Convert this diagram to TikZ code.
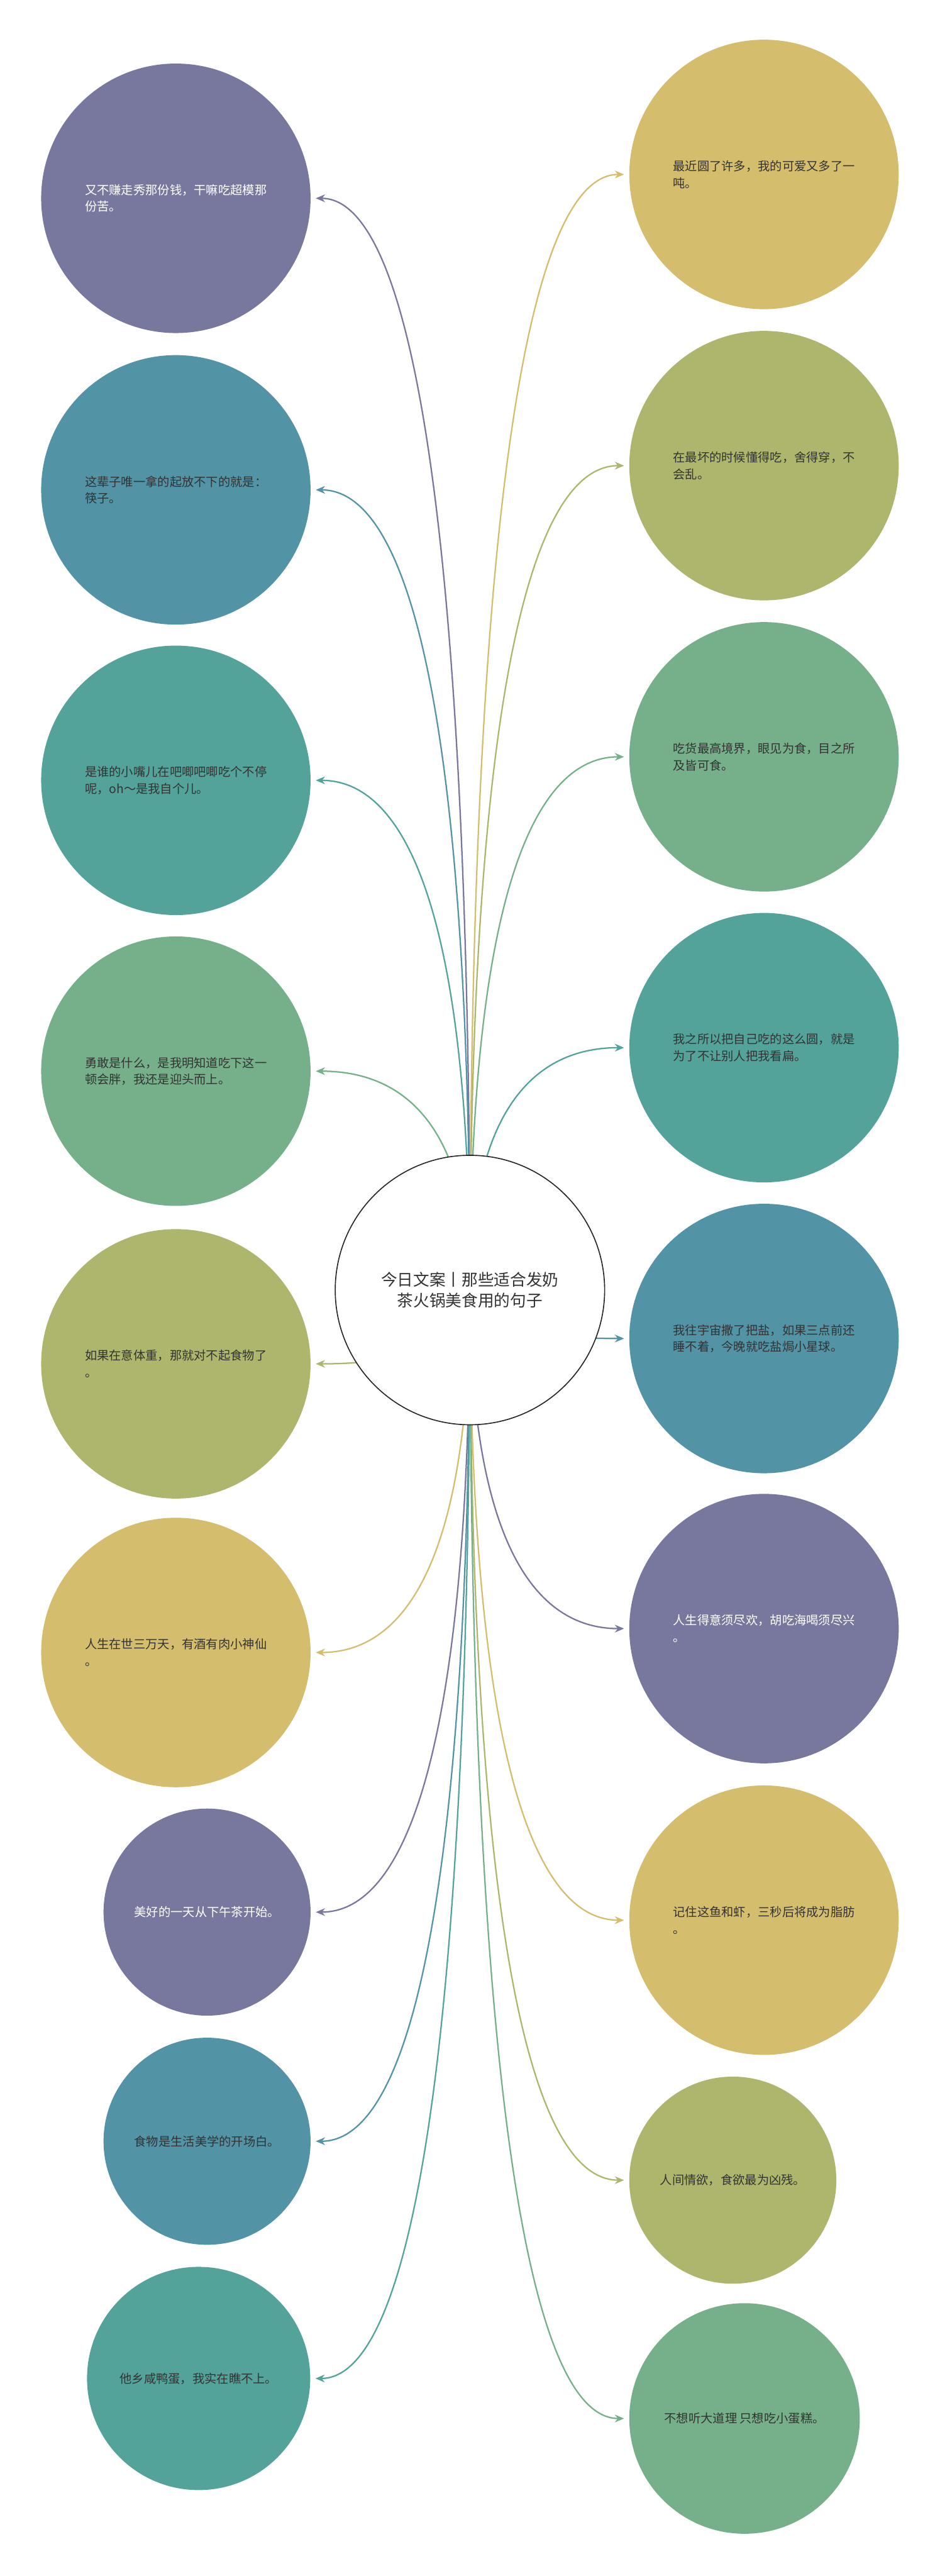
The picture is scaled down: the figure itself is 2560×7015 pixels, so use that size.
\documentclass[tikz,border=0pt]{standalone}
\usepackage{fontspec}
\setmainfont{Noto Sans CJK SC}
\usetikzlibrary{arrows.meta,calc,backgrounds}
\definecolor{cplum}{HTML}{78789F}
\definecolor{csteel}{HTML}{5293A6}
\definecolor{cteal}{HTML}{53A39A}
\definecolor{csage}{HTML}{76B08A}
\definecolor{colive}{HTML}{AEB66D}
\definecolor{cgold}{HTML}{D4BD6D}
\definecolor{ink}{HTML}{333333}
\newcommand{\twig}[3]{
  \draw[twig,#3] (hub.center)
    .. controls ($(hub.center)!0.667!(hub.center |- #1.#2)$)
    and ($(#1.#2)!0.667!(hub.center |- #1.#2)$) .. (#1.#2);
}

\begin{document}
\begin{tikzpicture}[
  x=0.02cm, y=-0.02cm,
  leaf/.style={circle,fill=#1,inner sep=0pt,align=left,text=ink,
    font=\fontsize{18.8}{26}\selectfont},
  big/.style={minimum size=14.68cm},
  small/.style={minimum size=11.28cm},
  hubnode/.style={circle,draw=black!85,line width=1.6pt,fill=white,
    minimum size=14.68cm,align=center,text=ink,
    font=\fontsize{25}{32}\selectfont},
  twig/.style={line width=2.2pt,shorten >=0.28cm,
    -{Stealth[length=0.5cm,width=0.42cm]}},
  ]
  \useasboundingbox (0,0) rectangle (2560,7015);
  \node[hubnode](hub) at (1280,3513){今日文案丨那些适合发奶\\茶火锅美食用的句子};

  \node[leaf=cplum,big,text=white](l1) at (479,540){又不赚走秀那份钱，干嘛吃超模那\\份苦。};
  \node[leaf=csteel,big](l2) at (479,1334){这辈子唯一拿的起放不下的就是：\\筷子。};
  \node[leaf=cteal,big](l3) at (479,2125){是谁的小嘴儿在吧唧吧唧吃个不停\\呢，oh～是我自个儿。};
  \node[leaf=csage,big](l4) at (479,2917){勇敢是什么，是我明知道吃下这一\\顿会胖，我还是迎头而上。};
  \node[leaf=colive,big](l5) at (479,3714){如果在意体重，那就对不起食物了\\。};
  \node[leaf=cgold,big](l6) at (479,4500){人生在世三万天，有酒有肉小神仙\\。};
  \node[leaf=cplum,small,text=white](l7) at (564,5207){美好的一天从下午茶开始。};
  \node[leaf=csteel,small](l8) at (564,5831){食物是生活美学的开场白。};
  \node[leaf=cteal,minimum size=12.16cm](l9) at (541,6477){他乡咸鸭蛋，我实在瞧不上。};

  \node[leaf=cgold,big](r1) at (2081,475){最近圆了许多，我的可爱又多了一\\吨。};
  \node[leaf=colive,big](r2) at (2081,1268){在最坏的时候懂得吃，舍得穿，不\\会乱。};
  \node[leaf=csage,big](r3) at (2081,2061){吃货最高境界，眼见为食，目之所\\及皆可食。};
  \node[leaf=cteal,big](r4) at (2081,2853){我之所以把自己吃的这么圆，就是\\为了不让别人把我看扁。};
  \node[leaf=csteel,big](r5) at (2081,3645){我往宇宙撒了把盐，如果三点前还\\睡不着，今晚就吃盐焗小星球。};
  \node[leaf=cplum,big,text=white](r6) at (2081,4435){人生得意须尽欢，胡吃海喝须尽兴\\。};
  \node[leaf=cgold,big](r7) at (2081,5229){记住这鱼和虾，三秒后将成为脂肪\\。};
  \node[leaf=colive,small](r8) at (1996,5937){人间情欲，食欲最为凶残。};
  \node[leaf=csage,minimum size=12.56cm](r9) at (2028,6586){不想听大道理 只想吃小蛋糕。};

  \begin{scope}[on background layer]
    \twig{l1}{east}{cplum}
    \twig{l2}{east}{csteel}
    \twig{l3}{east}{cteal}
    \twig{l4}{east}{csage}
    \twig{l5}{east}{colive}
    \twig{l6}{east}{cgold}
    \twig{l7}{east}{cplum}
    \twig{l8}{east}{csteel}
    \twig{l9}{east}{cteal}
    \twig{r1}{west}{cgold}
    \twig{r2}{west}{colive}
    \twig{r3}{west}{csage}
    \twig{r4}{west}{cteal}
    \twig{r5}{west}{csteel}
    \twig{r6}{west}{cplum}
    \twig{r7}{west}{cgold}
    \twig{r8}{west}{colive}
    \twig{r9}{west}{csage}
  \end{scope}
\end{tikzpicture}
\end{document}
